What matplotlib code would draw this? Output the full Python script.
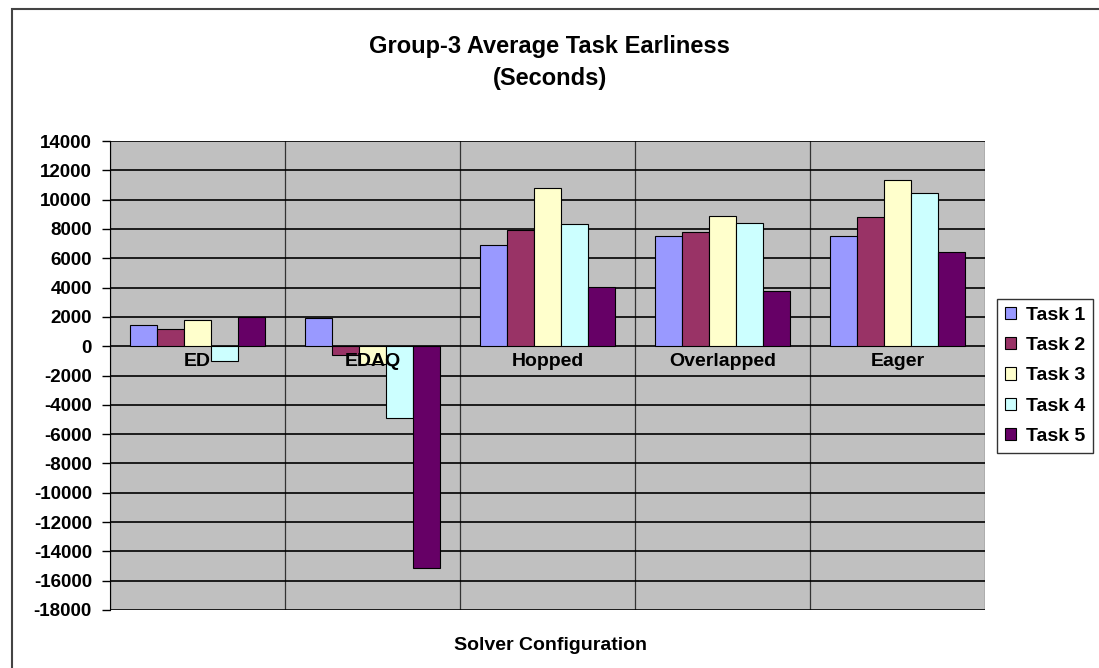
import matplotlib.pyplot as plt
import matplotlib.patches as mpatches
import numpy as np

plt.rcParams['font.family'] = ['Liberation Sans', 'DejaVu Sans']

configs = ['ED', 'EDAQ', 'Hopped', 'Overlapped', 'Eager']
tasks = ['Task 1', 'Task 2', 'Task 3', 'Task 4', 'Task 5']
task1 = [1430, 1890, 6930, 7500, 7550]
task2 = [1200, -570, 7950, 7800, 8820]
task3 = [1770, -1200, 10800, 8890, 11340]
task4 = [-1020, -4930, 8320, 8410, 10440]
task5 = [1980, -15120, 4020, 3790, 6430]
yticks = list(range(-18000, 14001, 2000))

colors = ['#9999FF', '#993366', '#FFFFCC', '#CCFFFF', '#660066']
series = [task1, task2, task3, task4, task5]

fig = plt.figure(figsize=(10.99, 6.68), dpi=100)
ax = fig.add_axes([110 / 1099, 1 - 610 / 668, 875 / 1099, 469 / 668])
ax.set_facecolor('#C0C0C0')

x = np.arange(len(configs))
w = 0.155
for i, (vals, c) in enumerate(zip(series, colors)):
    ax.bar(x + (i - 2) * w, vals, w, color=c, edgecolor='black',
           linewidth=0.8, label=tasks[i], zorder=3)

ax.set_xlim(-0.5, len(configs) - 0.5)
ax.set_ylim(-18000, 14000)
ax.set_yticks(yticks)
ax.set_yticklabels([str(t) for t in yticks], fontsize=13.5, fontweight='bold')
ax.tick_params(axis='y', length=6, width=1, direction='out', pad=7)

# vertical separators between categories, horizontal grid
for b in np.arange(-0.5, len(configs), 1.0):
    ax.axvline(b, color='#333333', linewidth=0.9, zorder=1)
for t in yticks:
    ax.axhline(t, color='black', linewidth=1.2, zorder=1)
ax.set_xticks([])

for s in ['top', 'right', 'bottom']:
    ax.spines[s].set_visible(False)
ax.spines['left'].set_color('black')

# category labels sit just under the zero line
for xi, name in zip(x, configs):
    ax.text(xi, -1050, name, ha='center', va='center', fontsize=14,
            fontweight='bold', zorder=4)

fig.text(0.5, 1 - 46 / 668, 'Group-3 Average Task Earliness', ha='center',
         va='center', fontsize=17, fontweight='bold')
fig.text(0.5, 1 - 79 / 668, '(Seconds)', ha='center', va='center',
         fontsize=17, fontweight='bold')
fig.text(551 / 1099, 1 - 646 / 668, 'Solver Configuration', ha='center',
         va='center', fontsize=14, fontweight='bold')

handles = [mpatches.Patch(facecolor=c, edgecolor='black', linewidth=0.8)
           for c in colors]
leg = fig.legend(handles, tasks, loc='upper left',
                 bbox_to_anchor=(997 / 1099, 1 - 299 / 668),
                 prop={'size': 14, 'weight': 'bold'}, frameon=True,
                 fancybox=False, handlelength=0.6, handleheight=0.6,
                 handletextpad=0.5, borderpad=0.4, labelspacing=0.68,
                 borderaxespad=0)
leg.get_frame().set_edgecolor('black')
leg.get_frame().set_linewidth(1)

# outer chart border
fig.patches.append(mpatches.Rectangle((12 / 1099, -0.1), 1.2, 1 - 9 / 668 + 0.1,
                                      transform=fig.transFigure, fill=False,
                                      edgecolor='#444444', linewidth=1.5))

plt.savefig('out.png', dpi=100)
plt.close()
